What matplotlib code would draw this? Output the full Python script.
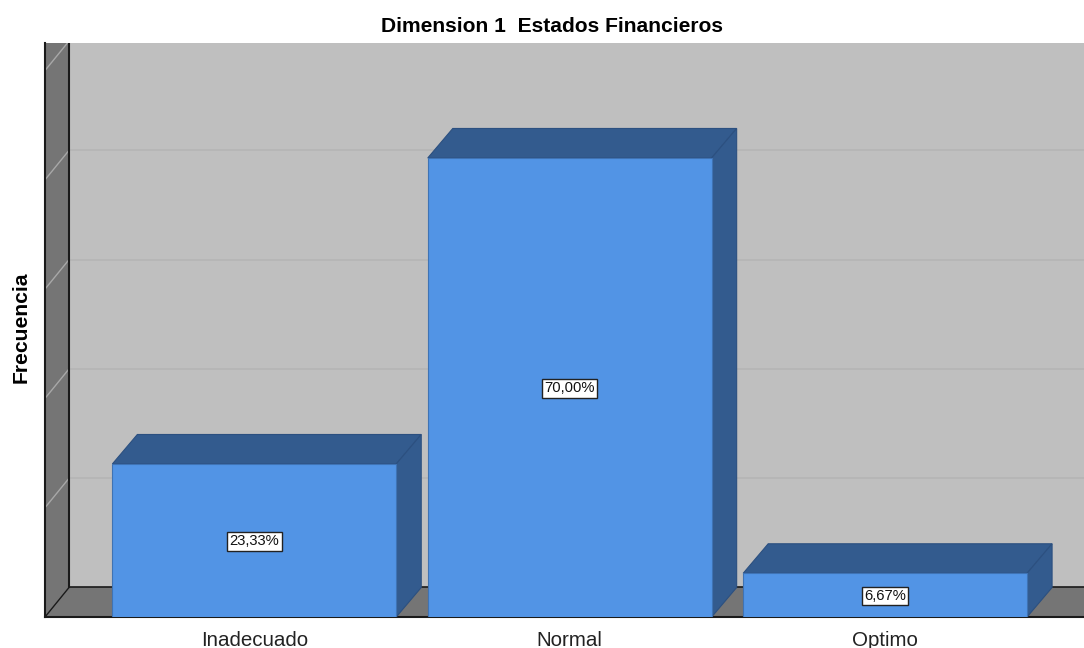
import matplotlib
matplotlib.use("Agg")
from matplotlib import pyplot as plt
from matplotlib.patches import Polygon

plt.rcParams['font.family'] = ['Liberation Sans', 'DejaVu Sans']

categories = ['Inadecuado', 'Normal', 'Optimo']
counts = [7, 21, 2]
percent_labels = ['23,33%', '70,00%', '6,67%']
grid_counts = [5, 10, 15, 20, 25, 30]

# 3D look is faked with polygons, depth is given in data units
depth_x = 0.0793
depth_y = 1.35
bar_width = 0.9
x_min, x_max = -0.6635, 2.6305
y_min, y_max = 0, 26.26

front_color = '#5294E5'
dark_color = '#335B8E'
wall_color = '#BFBFBF'
side_color = '#757575'


def add_poly(ax, pts, color, edge=None, z=1, lw=0.8):
    ax.add_patch(Polygon(pts, closed=True, facecolor=color,
                         edgecolor=edge if edge else color, linewidth=lw, zorder=z))


fig = plt.figure(figsize=(10.84, 6.48), dpi=100)
ax = fig.add_axes([45 / 1084, 1 - 617 / 648, (1084 - 45) / 1084, (617 - 43) / 648])
ax.set_xlim(x_min, x_max)
ax.set_ylim(y_min, y_max)
for side in ['top', 'right', 'left', 'bottom']:
    ax.spines[side].set_visible(False)

back_x = x_min + depth_x * 0.96

# Back wall, left wall and floor
add_poly(ax, [(back_x, depth_y), (x_max, depth_y), (x_max, y_max), (back_x, y_max)], wall_color, z=1)
add_poly(ax, [(x_min, y_min), (back_x, depth_y), (back_x, y_max), (x_min, y_max)], side_color, z=1)
add_poly(ax, [(x_min, y_min), (x_max, y_min), (x_max, depth_y), (back_x, depth_y)], side_color, z=1)

# Gridlines run along the back wall and down the left wall
for g in grid_counts:
    ax.plot([back_x, x_max], [g + depth_y, g + depth_y], color='#B5B5B5', lw=1.2, zorder=2)
    ax.plot([x_min, back_x], [g, g + depth_y], color='#A8A8A8', lw=1.0, zorder=2)

# Frame lines
line_color = '#1A1A1A'
ax.plot([x_min, back_x], [y_min, depth_y], color=line_color, lw=1.0, zorder=3)
ax.plot([back_x, x_max], [depth_y, depth_y], color=line_color, lw=1.2, zorder=3)
ax.plot([back_x, back_x], [depth_y, y_max], color=line_color, lw=1.5, zorder=3)
ax.plot([x_min, x_min], [y_min, y_max], color=line_color, lw=1.5, zorder=3, clip_on=False)
ax.plot([x_min, x_max], [y_min, y_min], color=line_color, lw=1.5, zorder=3, clip_on=False)

positions = list(range(len(categories)))
ax.bar(positions, counts, width=bar_width, color=front_color, edgecolor='#3F73B4', linewidth=0.8, zorder=5)

for pos, val, lab in zip(positions, counts, percent_labels):
    left = pos - bar_width / 2
    right = pos + bar_width / 2
    # top face
    add_poly(ax, [(left, val), (right, val), (right + depth_x, val + depth_y), (left + depth_x, val + depth_y)],
             dark_color, edge='#2C5080', z=4)
    # side face
    add_poly(ax, [(right, 0), (right + depth_x, depth_y), (right + depth_x, val + depth_y), (right, val)],
             dark_color, edge='#2C5080', z=4)
    ax.annotate(lab, (pos, val / 2), xytext=(0, -1), textcoords='offset pixels',
                ha='center', va='center', fontsize=10.6, color='#111111', zorder=6,
                bbox=dict(boxstyle='square,pad=0.16', facecolor='white', edgecolor='#222222', linewidth=1.0))

ax.set_xticks(positions)
ax.set_xticklabels(categories, fontsize=14.8, color='#222222')
ax.tick_params(axis='x', length=0, pad=10)
ax.set_yticks([])

fig.text(552 / 1084, 1 - 26 / 648, 'Dimension 1  Estados Financieros', ha='center', va='center',
         fontsize=15.1, fontweight='bold', color='black')
fig.text(21 / 1084, 1 - 327 / 648, 'Frecuencia', ha='center', va='center', rotation=90,
         fontsize=15.2, fontweight='bold', color='black')

fig.savefig('out.png', dpi=100)
